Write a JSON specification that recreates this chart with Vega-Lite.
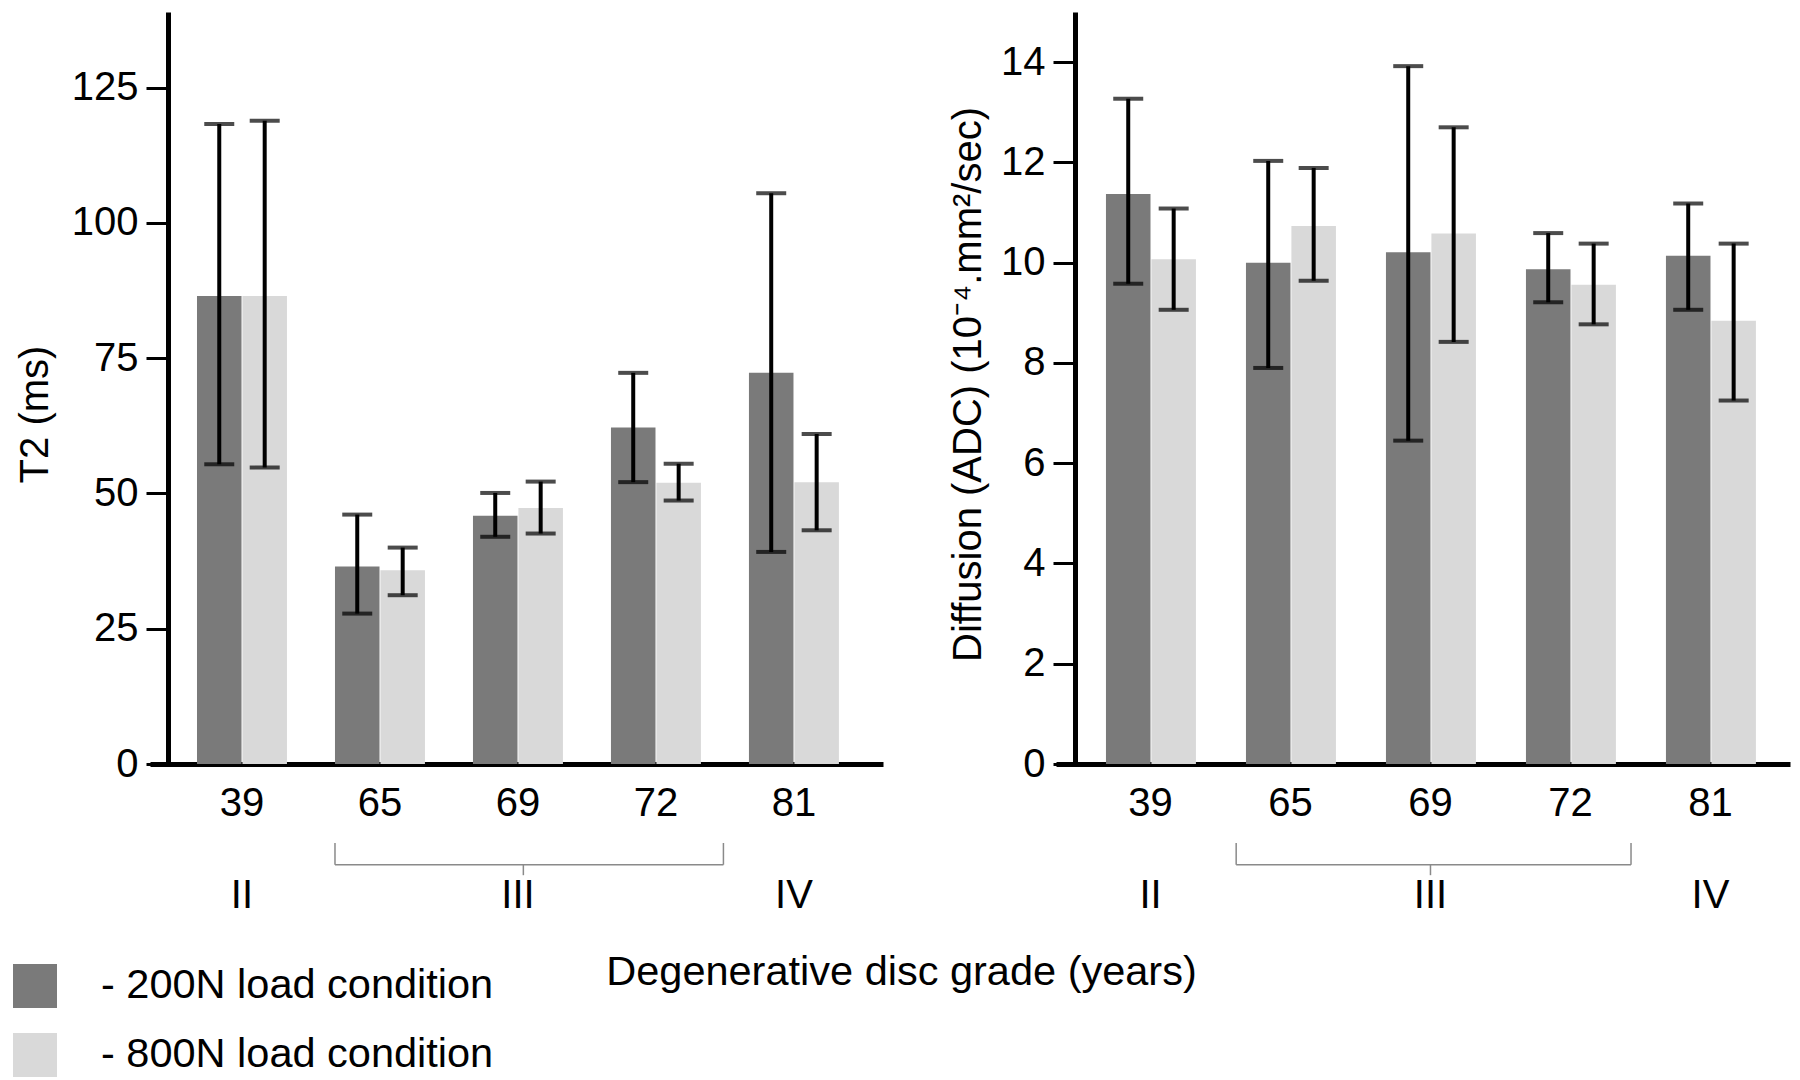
{
  "$schema": "https://vega.github.io/schema/vega-lite/v6.json",
  "background": "white",
  "padding": {"left": 13, "top": 12, "right": 5, "bottom": 5},
  "config": {
    "view": {"stroke": null},
    "font": "Liberation Sans",
    "axis": {"labelFont": "Liberation Sans", "titleFont": "Liberation Sans", "labelColor": "black", "titleColor": "black", "grid": false},
    "title": {"font": "Liberation Sans"},
    "legend": {"labelFont": "Liberation Sans"}
  },
  "datasets": {
    "t2": [
      {"age": "39", "load": "200N", "mean": 86.5, "lo": 55.4, "hi": 118.3},
      {"age": "39", "load": "800N", "mean": 86.5, "lo": 54.8, "hi": 118.9},
      {"age": "65", "load": "200N", "mean": 36.5, "lo": 27.8, "hi": 46.1},
      {"age": "65", "load": "800N", "mean": 35.8, "lo": 31.2, "hi": 40.0},
      {"age": "69", "load": "200N", "mean": 45.9, "lo": 42.0, "hi": 50.1},
      {"age": "69", "load": "800N", "mean": 47.3, "lo": 42.6, "hi": 52.2},
      {"age": "72", "load": "200N", "mean": 62.2, "lo": 52.1, "hi": 72.3},
      {"age": "72", "load": "800N", "mean": 52.0, "lo": 48.7, "hi": 55.5},
      {"age": "81", "load": "200N", "mean": 72.3, "lo": 39.2, "hi": 105.5},
      {"age": "81", "load": "800N", "mean": 52.1, "lo": 43.2, "hi": 61.0}
    ],
    "adc": [
      {"age": "39", "load": "200N", "mean": 11.37, "lo": 9.58, "hi": 13.27},
      {"age": "39", "load": "800N", "mean": 10.07, "lo": 9.06, "hi": 11.08},
      {"age": "65", "load": "200N", "mean": 10.0, "lo": 7.90, "hi": 12.03},
      {"age": "65", "load": "800N", "mean": 10.73, "lo": 9.64, "hi": 11.89},
      {"age": "69", "load": "200N", "mean": 10.21, "lo": 6.45, "hi": 13.92},
      {"age": "69", "load": "800N", "mean": 10.58, "lo": 8.42, "hi": 12.70},
      {"age": "72", "load": "200N", "mean": 9.87, "lo": 9.21, "hi": 10.59},
      {"age": "72", "load": "800N", "mean": 9.56, "lo": 8.77, "hi": 10.38},
      {"age": "81", "load": "200N", "mean": 10.14, "lo": 9.06, "hi": 11.18},
      {"age": "81", "load": "800N", "mean": 8.84, "lo": 7.25, "hi": 10.38}
    ],
    "grades": [
      {"age": "39", "grade": "II"},
      {"age": "69", "grade": "III"},
      {"age": "81", "grade": "IV"}
    ],
    "bracket": [
      {"from": "65", "to": "72", "mid": "69"}
    ]
  },
  "title": {"text": "Degenerative disc grade (years)", "orient": "bottom", "anchor": "middle", "fontSize": 41.5, "fontWeight": "normal", "color": "black", "offset": -125},
  "resolve": {"scale": {"color": "shared"}},
  "spacing": 65,
  "hconcat": [
    {
      "spacing": 19,
      "vconcat": [
        {
          "width": 733, "height": 752,
          "data": {"name": "t2"},
          "encoding": {
            "x": {"field": "age", "type": "nominal", "sort": ["39","65","69","72","81"],
                  "scale": {"domain": ["39","65","69","72","81"], "paddingInner": 0.348, "paddingOuter": 0.33, "align": 0.516},
                  "axis": {"title": null, "labelAngle": 0, "labelFontSize": 40, "ticks": false, "labelPadding": 19, "domainWidth": 5, "domainColor": "black"}},
            "xOffset": {"field": "load", "type": "nominal", "scale": {"paddingInner": 0.02}}
          },
          "layer": [
            {
              "mark": {"type": "bar"},
              "encoding": {
                "y": {"field": "mean", "type": "quantitative", "scale": {"domain": [0, 139], "nice": false},
                      "axis": {"title": "T2 (ms)", "values": [0, 25, 50, 75, 100, 125], "offset": -18, "labelFontSize": 40, "titleFontSize": 40, "titleFontWeight": "normal", "domainWidth": 5, "domainColor": "black", "tickSize": 22, "tickWidth": 3, "tickColor": "black", "labelPadding": 8, "titlePadding": 16, "titleY": 402}},
                "color": {"field": "load", "type": "nominal",
                          "scale": {"domain": ["200N", "800N"], "range": ["#7a7a7a", "#d9d9d9"]},
                          "legend": {"title": null, "orient": "none", "legendX": -137, "legendY": 952, "padding": 0, "symbolType": "square", "symbolSize": 1936, "symbolStrokeWidth": 0, "labelFontSize": 41.5, "labelOffset": 44, "labelLimit": 0, "rowPadding": 25, "labelColor": "black", "labelExpr": "'- ' + datum.label + ' load condition'"}}
              }
            },
            {
              "mark": {"type": "rule", "color": "black", "strokeWidth": 4},
              "encoding": {"y": {"field": "lo", "type": "quantitative"}, "y2": {"field": "hi"}}
            },
            {
              "mark": {"type": "tick", "color": "black", "thickness": 4, "size": 30},
              "encoding": {"y": {"field": "lo", "type": "quantitative"}}
            },
            {
              "mark": {"type": "tick", "color": "black", "thickness": 4, "size": 30},
              "encoding": {"y": {"field": "hi", "type": "quantitative"}}
            }
          ]
        },
        {
          "width": 733, "height": 70,
          "layer": [
            {
              "data": {"name": "bracket"},
              "mark": {"type": "rule", "color": "#8a8a8a", "strokeWidth": 1.5},
              "encoding": {
                "x": {"field": "from", "type": "nominal", "bandPosition": 0, "scale": {"domain": ["39","65","69","72","81"], "paddingInner": 0.348, "paddingOuter": 0.33, "align": 0.516}, "axis": null},
                "x2": {"field": "to", "bandPosition": 1.25},
                "y": {"datum": 0.31, "type": "quantitative", "scale": {"domain": [0, 1], "reverse": true}, "axis": null}
              }
            },
            {
              "data": {"name": "bracket"},
              "mark": {"type": "rule", "color": "#8a8a8a", "strokeWidth": 1.5},
              "encoding": {
                "x": {"field": "from", "type": "nominal", "bandPosition": 0},
                "y": {"datum": 0, "type": "quantitative"},
                "y2": {"datum": 0.31}
              }
            },
            {
              "data": {"name": "bracket"},
              "mark": {"type": "rule", "color": "#8a8a8a", "strokeWidth": 1.5},
              "encoding": {
                "x": {"field": "to", "type": "nominal", "bandPosition": 1.25},
                "y": {"datum": 0, "type": "quantitative"},
                "y2": {"datum": 0.31}
              }
            },
            {
              "data": {"name": "bracket"},
              "mark": {"type": "rule", "color": "#8a8a8a", "strokeWidth": 1.5},
              "encoding": {
                "x": {"field": "mid", "type": "nominal", "bandPosition": 0.56},
                "y": {"datum": 0.31, "type": "quantitative"},
                "y2": {"datum": 0.46}
              }
            },
            {
              "data": {"name": "grades"},
              "mark": {"type": "text", "fontSize": 40, "color": "black", "baseline": "alphabetic", "font": "Liberation Sans"},
              "encoding": {
                "x": {"field": "age", "type": "nominal"},
                "y": {"datum": 0.93, "type": "quantitative"},
                "text": {"field": "grade"}
              }
            }
          ]
        }
      ]
    },
    {
      "spacing": 19,
      "vconcat": [
        {
          "width": 734, "height": 752,
          "data": {"name": "adc"},
          "encoding": {
            "x": {"field": "age", "type": "nominal", "sort": ["39","65","69","72","81"],
                  "scale": {"domain": ["39","65","69","72","81"], "paddingInner": 0.364, "paddingOuter": 0.3035, "align": 0.588},
                  "axis": {"title": null, "labelAngle": 0, "labelFontSize": 40, "ticks": false, "labelPadding": 19, "domainWidth": 5, "domainColor": "black"}},
            "xOffset": {"field": "load", "type": "nominal", "scale": {"paddingInner": 0.02}}
          },
          "layer": [
            {
              "mark": {"type": "bar"},
              "encoding": {
                "y": {"field": "mean", "type": "quantitative", "scale": {"domain": [0, 15], "nice": false},
                      "axis": {"title": "Diffusion (ADC) (10⁻⁴.mm²/sec)", "values": [0, 2, 4, 6, 8, 10, 12, 14], "offset": -19, "labelFontSize": 40, "titleFontSize": 40, "titleFontWeight": "normal", "domainWidth": 5, "domainColor": "black", "tickSize": 22, "tickWidth": 3, "tickColor": "black", "labelPadding": 8, "titlePadding": 12, "titleY": 372}},
                "color": {"field": "load", "type": "nominal", "legend": null}
              }
            },
            {
              "mark": {"type": "rule", "color": "black", "strokeWidth": 4},
              "encoding": {"y": {"field": "lo", "type": "quantitative"}, "y2": {"field": "hi"}}
            },
            {
              "mark": {"type": "tick", "color": "black", "thickness": 4, "size": 30},
              "encoding": {"y": {"field": "lo", "type": "quantitative"}}
            },
            {
              "mark": {"type": "tick", "color": "black", "thickness": 4, "size": 30},
              "encoding": {"y": {"field": "hi", "type": "quantitative"}}
            }
          ]
        },
        {
          "width": 734, "height": 70,
          "layer": [
            {
              "data": {"name": "bracket"},
              "mark": {"type": "rule", "color": "#8a8a8a", "strokeWidth": 1.5},
              "encoding": {
                "x": {"field": "from", "type": "nominal", "bandPosition": -0.11, "scale": {"domain": ["39","65","69","72","81"], "paddingInner": 0.364, "paddingOuter": 0.3035, "align": 0.588}, "axis": null},
                "x2": {"field": "to", "bandPosition": 1.18},
                "y": {"datum": 0.31, "type": "quantitative", "scale": {"domain": [0, 1], "reverse": true}, "axis": null}
              }
            },
            {
              "data": {"name": "bracket"},
              "mark": {"type": "rule", "color": "#8a8a8a", "strokeWidth": 1.5},
              "encoding": {
                "x": {"field": "from", "type": "nominal", "bandPosition": -0.11},
                "y": {"datum": 0, "type": "quantitative"},
                "y2": {"datum": 0.31}
              }
            },
            {
              "data": {"name": "bracket"},
              "mark": {"type": "rule", "color": "#8a8a8a", "strokeWidth": 1.5},
              "encoding": {
                "x": {"field": "to", "type": "nominal", "bandPosition": 1.18},
                "y": {"datum": 0, "type": "quantitative"},
                "y2": {"datum": 0.31}
              }
            },
            {
              "data": {"name": "bracket"},
              "mark": {"type": "rule", "color": "#8a8a8a", "strokeWidth": 1.5},
              "encoding": {
                "x": {"field": "mid", "type": "nominal", "bandPosition": 0.5},
                "y": {"datum": 0.31, "type": "quantitative"},
                "y2": {"datum": 0.46}
              }
            },
            {
              "data": {"name": "grades"},
              "mark": {"type": "text", "fontSize": 40, "color": "black", "baseline": "alphabetic", "font": "Liberation Sans"},
              "encoding": {
                "x": {"field": "age", "type": "nominal"},
                "y": {"datum": 0.93, "type": "quantitative"},
                "text": {"field": "grade"}
              }
            }
          ]
        }
      ]
    }
  ]
}
